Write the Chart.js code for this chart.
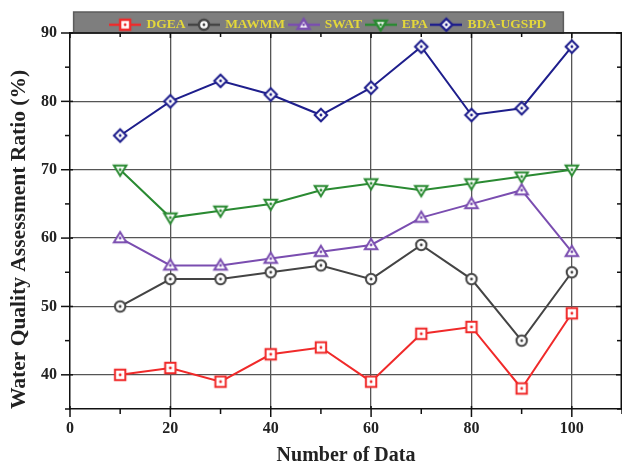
<!DOCTYPE html>
<html lang="en">
<head>
  <meta charset="UTF-8" />
  <title>Water Quality Assessment Ratio</title>
  <script src="https://cdn.jsdelivr.net/npm/chart.js"></script>
  <style>
    html, body { margin: 0; padding: 0; background: #fff; }
  </style>
</head>
<body>
  <canvas id="wqChart" width="622" height="466"></canvas>

  <script>
    // values
    const dataSizes = [10, 20, 30, 40, 50, 60, 70, 80, 90, 100];
    const dgea   = [40, 41, 39, 43, 44, 39, 46, 47, 38, 49];
    const mawmm  = [50, 54, 54, 55, 56, 54, 59, 54, 45, 55];
    const swat   = [60, 56, 56, 57, 58, 59, 63, 65, 67, 58];
    const epa    = [70, 63, 64, 65, 67, 68, 67, 68, 69, 70];
    const bdaUgs = [75, 80, 83, 81, 78, 82, 88, 78, 79, 88];

    const xMajor = [0, 20, 40, 60, 80, 100];
    const xMinor = [10, 30, 50, 70, 90, 110];
    const yMajor = [40, 50, 60, 70, 80, 90];
    const yMinor = [35, 45, 55, 65, 75, 85];

    const serif = "'Liberation Serif', 'Times New Roman', serif";

    function markerPath(ctx, shape, cx, cy, s) {
      ctx.beginPath();
      if (shape === 'square') {
        ctx.rect(cx - s, cy - s, 2 * s, 2 * s);
      } else if (shape === 'circle') {
        ctx.arc(cx, cy, s, 0, Math.PI * 2);
      } else if (shape === 'triUp') {
        ctx.moveTo(cx, cy - s * 1.15);
        ctx.lineTo(cx + s * 1.2, cy + s * 0.8);
        ctx.lineTo(cx - s * 1.2, cy + s * 0.8);
        ctx.closePath();
      } else if (shape === 'triDown') {
        ctx.moveTo(cx, cy + s * 1.15);
        ctx.lineTo(cx + s * 1.2, cy - s * 0.8);
        ctx.lineTo(cx - s * 1.2, cy - s * 0.8);
        ctx.closePath();
      } else {
        ctx.moveTo(cx, cy - s * 1.2);
        ctx.lineTo(cx + s * 1.2, cy);
        ctx.lineTo(cx, cy + s * 1.2);
        ctx.lineTo(cx - s * 1.2, cy);
        ctx.closePath();
      }
    }

    // origin-like hollow marker with a dot in the middle
    function makeMarker(shape, color, withLine) {
      const w = withLine ? 32 : 18, h = 18;
      const c = document.createElement('canvas');
      c.width = w; c.height = h;
      const ctx = c.getContext('2d');
      const cx = w / 2, cy = h / 2;
      ctx.strokeStyle = color;
      ctx.lineWidth = withLine ? 2.4 : 2;
      if (withLine) {
        ctx.beginPath(); ctx.moveTo(0, cy); ctx.lineTo(w, cy); ctx.stroke();
      }
      markerPath(ctx, shape, cx, cy, withLine ? 5 : 5.2);
      ctx.fillStyle = '#fff';
      ctx.fill();
      ctx.stroke();
      ctx.beginPath();
      ctx.arc(cx, cy, 1.4, 0, Math.PI * 2);
      ctx.fillStyle = color;
      ctx.fill();
      return c;
    }

    const series = [
      { label: 'DGEA',      values: dgea,   color: '#f02a2a', shape: 'square' },
      { label: 'MAWMM',     values: mawmm,  color: '#444444', shape: 'circle' },
      { label: 'SWAT',      values: swat,   color: '#7a4db0', shape: 'triUp' },
      { label: 'EPA',       values: epa,    color: '#2a8a32', shape: 'triDown' },
      { label: 'BDA-UGSPD', values: bdaUgs, color: '#1e1e8c', shape: 'diamond' }
    ];

    const legendIcons = series.map(s => makeMarker(s.shape, s.color, true));

    const datasets = series.map(s => ({
      label: s.label,
      data: dataSizes.map((x, i) => ({ x: x, y: s.values[i] })),
      borderColor: s.color,
      backgroundColor: s.color,
      borderWidth: 2,
      pointStyle: makeMarker(s.shape, s.color, false),
      pointRadius: 6,
      tension: 0
    }));

    const frame = {
      id: 'frame',
      beforeLayout(chart) {
        const lg = chart.legend;
        if (lg && !lg._squeezed) {
          const fit = lg.fit.bind(lg);
          lg.fit = function () { fit(); this.height = 19; };
          lg._squeezed = true;
        }
      },
      afterLayout(chart) {
        chart.legend.left += 35;
      },
      beforeDraw(chart) {
        const lg = chart.legend;
        const ctx = chart.ctx;
        const pad = lg.options.labels.padding;
        const rowW = lg.lineWidths[0];
        const x0 = (lg.left + pad + lg.right - rowW) / 2;
        const left = x0 - 37, right = x0 + rowW - pad + 17;
        ctx.save();
        ctx.fillStyle = '#7e7e7e';
        ctx.fillRect(left, 12, right - left, chart.chartArea.top - 12);
        ctx.strokeStyle = '#5c5c5c';
        ctx.lineWidth = 1.5;
        ctx.strokeRect(left, 12, right - left, chart.chartArea.top - 12);
        ctx.restore();
      },
      afterDraw(chart) {
        const ctx = chart.ctx;
        const ca = chart.chartArea;
        const xs = chart.scales.x, ys = chart.scales.y;
        const seg = (x1, y1, x2, y2) => {
          ctx.beginPath(); ctx.moveTo(x1, y1); ctx.lineTo(x2, y2); ctx.stroke();
        };
        ctx.save();
        ctx.strokeStyle = '#111';
        ctx.lineWidth = 1.5;
        seg(ca.left, ca.top, ca.right, ca.top);
        seg(ca.right - 0.75, ca.top, ca.right - 0.75, ca.bottom);
        xMajor.forEach(v => {
          const px = xs.getPixelForValue(v);
          seg(px, ca.bottom - 3, px, ca.bottom + 8);
          seg(px, ca.top, px, ca.top + 5);
        });
        xMinor.forEach(v => {
          const px = xs.getPixelForValue(v);
          seg(px, ca.bottom, px, ca.bottom + 5);
          seg(px, ca.top, px, ca.top + 4);
        });
        yMajor.forEach(v => {
          const py = ys.getPixelForValue(v);
          seg(ca.left - 9, py, ca.left + 3, py);
          seg(ca.right - 6, py, ca.right, py);
        });
        yMinor.forEach(v => {
          const py = ys.getPixelForValue(v);
          seg(ca.left - 5, py, ca.left, py);
          seg(ca.right - 5, py, ca.right, py);
        });
        ctx.restore();
      }
    };

    new Chart(document.getElementById('wqChart'), {
      type: 'line',
      data: { datasets: datasets },
      plugins: [frame],
      options: {
        responsive: false,
        animation: false,
        layout: { autoPadding: false, padding: { top: 14, left: 0, right: 0, bottom: 0 } },
        plugins: {
          tooltip: { enabled: false },
          legend: {
            position: 'top',
            labels: {
              usePointStyle: true,
              pointStyleWidth: 29,
              padding: 4,
              color: '#e4d83a',
              font: { family: serif, size: 13.5, weight: 'bold' },
              generateLabels: chart => chart.data.datasets.map((ds, i) => ({
                text: ds.label,
                pointStyle: legendIcons[i],
                fillStyle: ds.borderColor,
                strokeStyle: ds.borderColor,
                fontColor: '#e4d83a',
                lineWidth: 0,
                hidden: false,
                datasetIndex: i
              }))
            }
          }
        },
        scales: {
          x: {
            type: 'linear',
            min: 0,
            max: 110,
            afterBuildTicks: s => { s.ticks = xMajor.concat(xMinor).sort((a, b) => a - b).map(v => ({ value: v })); },
            afterFit: s => { s.height = 57; s.paddingLeft = 0; s.paddingRight = 0; },
            ticks: {
              autoSkip: false,
              maxRotation: 0,
              padding: 10,
              color: '#222',
              font: { family: serif, size: 16, weight: 'bold' },
              callback: v => (xMajor.includes(v) ? v : '')
            },
            grid: {
              drawTicks: false,
              lineWidth: 1.3,
              color: c => (c.tick && xMajor.includes(c.tick.value) && c.tick.value > 0 ? '#555' : 'rgba(0,0,0,0)')
            },
            border: { color: '#111', width: 1.5 },
            title: {
              display: true,
              text: 'Number of Data',
              color: '#222',
              padding: { top: 0, bottom: -2 },
              font: { family: serif, size: 20, weight: 'bold' }
            }
          },
          y: {
            min: 35,
            max: 90,
            afterBuildTicks: s => { s.ticks = yMinor.concat(yMajor).sort((a, b) => a - b).map(v => ({ value: v })); },
            afterFit: s => { s.width = 70; s.paddingTop = 0; s.paddingBottom = 0; },
            ticks: {
              autoSkip: false,
              padding: 13,
              color: '#222',
              font: { family: serif, size: 16, weight: 'bold' },
              callback: v => (yMajor.includes(v) ? v : '')
            },
            grid: {
              drawTicks: false,
              lineWidth: 1.3,
              color: c => (c.tick && yMajor.includes(c.tick.value) ? '#555' : 'rgba(0,0,0,0)')
            },
            border: { color: '#111', width: 1.5 },
            title: {
              display: true,
              text: 'Water Quality Assessment Ratio (%)',
              align: 'start',
              color: '#222',
              padding: { top: 7, bottom: 0 },
              font: { family: serif, size: 21.5, weight: 'bold' }
            }
          }
        }
      }
    });
  </script>
</body>
</html>
